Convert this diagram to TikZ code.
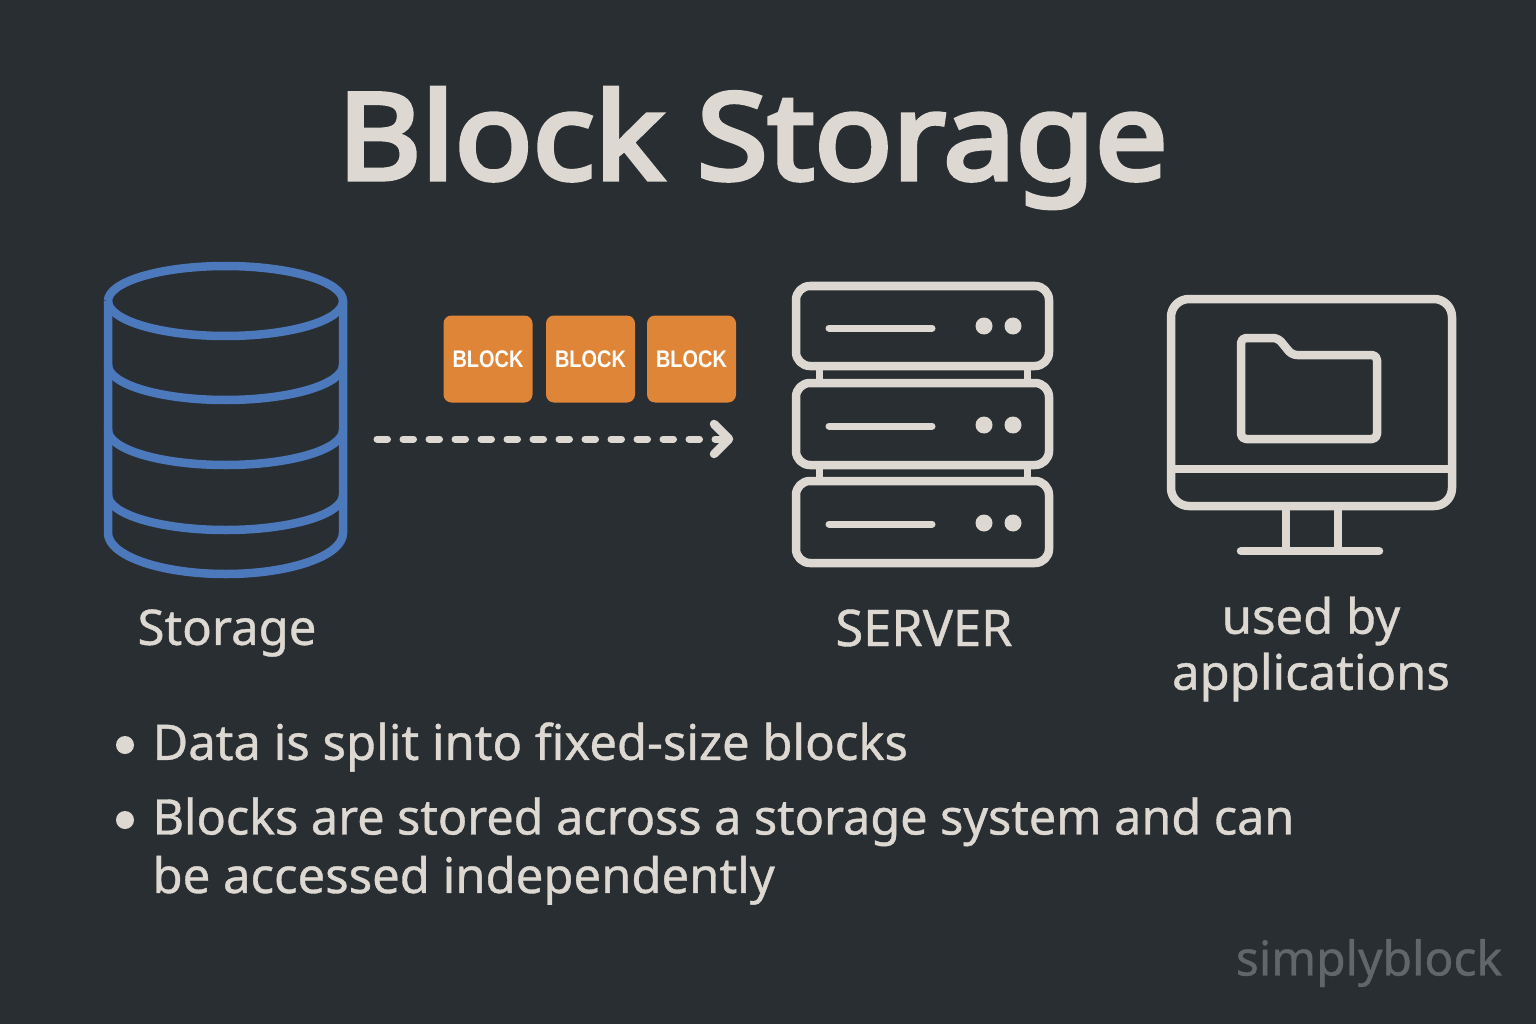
\documentclass[tikz,border=0pt]{standalone}
\usepackage{fontspec}
\setmainfont[FakeBold=0.8]{Noto Sans}
\newfontfamily\titlefont[FakeBold=4, FakeStretch=1.075]{Noto Sans}
\newfontface\tagfont[FakeStretch=0.83]{Liberation Sans Bold}
\definecolor{bgdark}{HTML}{292E32}
\definecolor{inkpale}{HTML}{DDD9D2}
\definecolor{drumblue}{HTML}{4C78BC}
\definecolor{blockorange}{HTML}{DF8537}
\definecolor{markgrey}{HTML}{62666A}
\tikzset{
    pale/.style={draw=inkpale, line width=8.5pt, line join=round, line cap=round},
    drum/.style={draw=drumblue, line width=8.5pt},
    blockbox/.style={fill=blockorange, rounded corners=8pt, minimum width=89pt, minimum height=87pt, inner sep=0pt,
        text=white, font=\fontsize{24}{24}\tagfont},
    caption/.style={text=inkpale, font=\fontsize{49}{56}\selectfont, align=center},
    bullettext/.style={text=inkpale, font=\fontsize{49}{58.5}\selectfont, anchor=west, align=left},
    dotmark/.style={circle, fill=inkpale, minimum size=18pt, inner sep=0pt},
}
\begin{document}
\begin{tikzpicture}[x=1pt, y=-1pt]
    \useasboundingbox[fill=bgdark] (0,0) rectangle (1536,1024);
    \node[text=inkpale, font=\fontsize{120}{120}\titlefont] (title) at (752.5,148) {Block Storage};
    % storage
    \draw[drum] (108,301) arc[start angle=180, end angle=-180, x radius=117.5, y radius=35];
    \draw[drum] (108,301) -- (108,533) arc[start angle=180, end angle=0, x radius=117.5, y radius=41] -- (343,301);
    \foreach \y in {365,430,495} {
        \draw[drum] (108,\y) arc[start angle=180, end angle=0, x radius=117.5, y radius=35];
    }
    \node[caption] (storage) at (227,633) {Storage};
    % blocks
    \node[blockbox] (blockone) at (488,359) {BLOCK};
    \node[blockbox] (blocktwo) at (590.5,359) {BLOCK};
    \node[blockbox] (blockthree) at (691.5,359) {BLOCK};
    \coordinate (flowstart) at (377,439);
    \coordinate (flowend) at (725,439);
    \coordinate (flowtip) at (729,439);
    \draw[pale, line width=7pt, dash pattern=on 10.5pt off 15.5pt] (flowstart) -- (flowend);
    \draw[pale] (714,424) -- (flowtip) -- (714,454);
    % server
    \foreach \y/\h/\liney/\doty in {286/80/42/40, 383/82/43/42, 481/82/43/42} {
        \begin{scope}[shift={(796,\y)}]
            \draw[pale, rounded corners=14pt] (0,0) rectangle (253,\h);
            \draw[pale, line width=7pt] (33,\liney) -- (136,\liney);
            \fill[inkpale] (188,\doty) circle (8.5pt) (217,\doty) circle (8.5pt);
        \end{scope}
    }
    \draw[pale, line cap=butt, line width=7pt] (819,366) -- (819,383) (1027,366) -- (1027,383);
    \draw[pale, line cap=butt, line width=7pt] (819,465) -- (819,481) (1027,465) -- (1027,481);
    \node[caption, font=\fontsize{50.5}{56}\selectfont] (server) at (924,628) {SERVER};
    % monitor
    \draw[pale, rounded corners=18pt] (1171,299) rectangle (1452,506);
    \draw[pale, line cap=butt] (1171,469) -- (1452,469);
    \draw[pale, line cap=butt] (1286,506) -- (1286,551) (1338,506) -- (1338,551);
    \draw[pale] (1241,551) -- (1379,551);
    \draw[pale, rounded corners=5pt] (1241,439) -- (1241,338) -- (1278,338) -- (1292,355) -- (1377,355) -- (1377,439) -- cycle;
    \node[caption] (apps) at (1311,649) {used by\\applications};
    % bullets
    \node[dotmark] (dotone) at (125,745) {};
    \node[dotmark] (dottwo) at (125,820) {};
    \node[bullettext] (lineone) at (149,747) {Data is split into fixed-size blocks};
    \node[bullettext] (linetwo) at (149,851) {{\addfontfeature{FakeStretch=0.99}Blocks are stored across a storage system and can}\\be accessed independently};
    \node[text=markgrey, font=\fontsize{48}{48}\selectfont] (brand) at (1369,963) {simplyblock};
\end{tikzpicture}
\end{document}
